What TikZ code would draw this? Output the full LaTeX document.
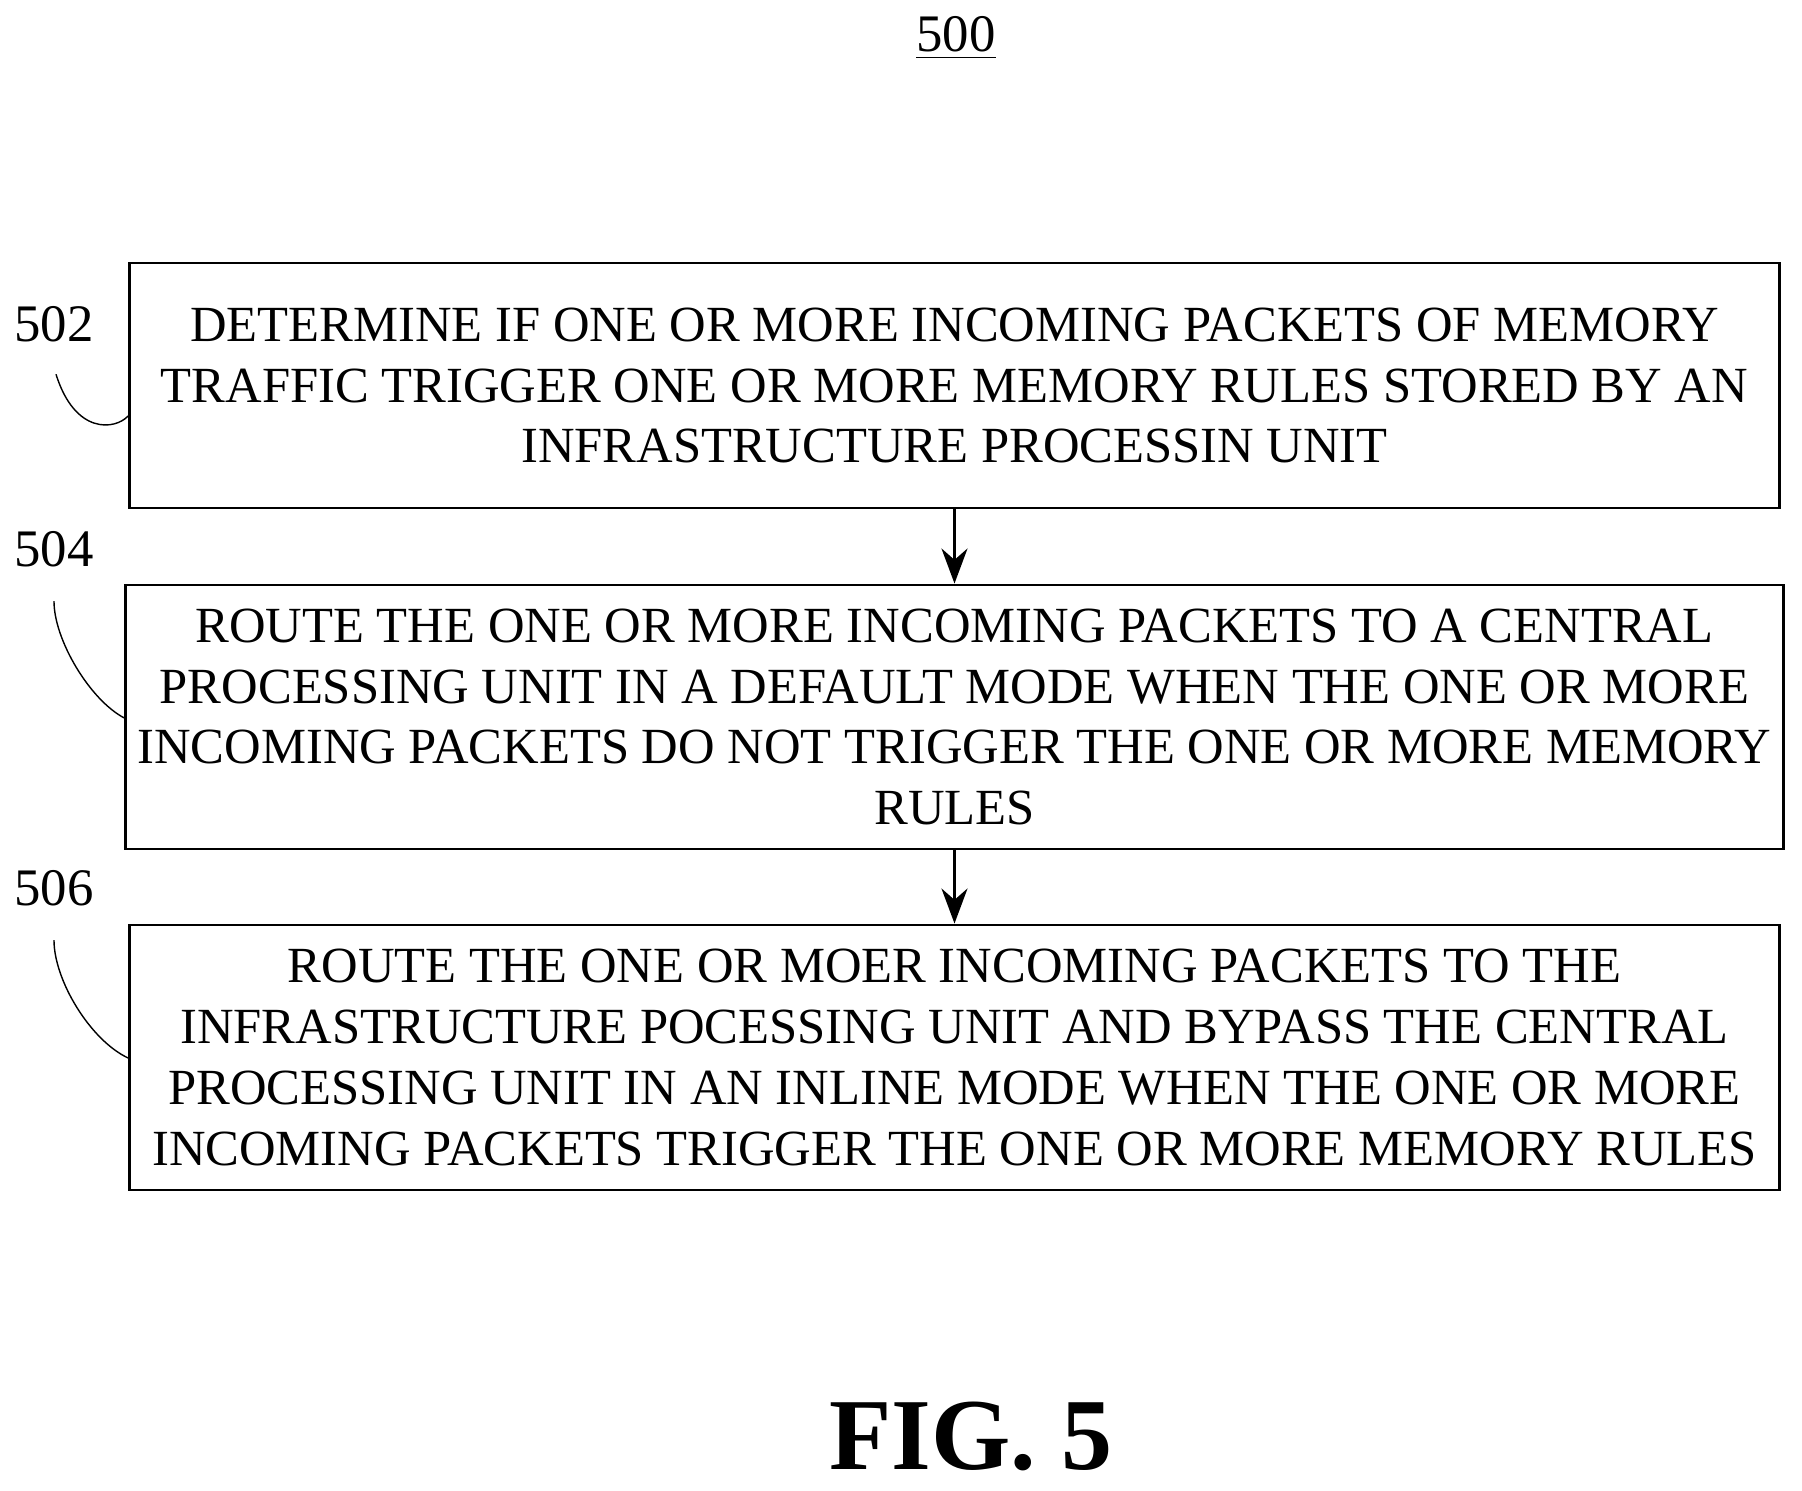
\documentclass[tikz,border=0pt]{standalone}
\usepackage{fontspec}
\setmainfont{Liberation Serif}
\usetikzlibrary{arrows.meta, positioning}
\begin{document}
\begin{tikzpicture}[x=0.01cm, y=-0.01cm,
	% Styles for the flow chart
	block/.style={draw, thick, rectangle, minimum width=16.49cm, align=center, font=\fontsize{14.4}{17.3}\selectfont},
	tag/.style={font=\fontsize{15}{18}\selectfont},
	line/.style={-{Stealth[length=3.5mm, width=2.6mm]}, thick},
	lead/.style={thin}
	]
	\useasboundingbox (0,0) rectangle (1802,1491);
	
	% === NODES ===
	\node[tag] (title) at (956,38) {\underline{500}};
	\node[block, minimum height=2.45cm] (s502) at (954.5,385.5) {DETERMINE IF ONE OR MORE INCOMING PACKETS OF MEMORY\\TRAFFIC TRIGGER ONE OR MORE MEMORY RULES STORED BY AN\\INFRASTRUCTURE PROCESSIN UNIT};
	\node[block, minimum height=2.64cm] (s504) at (954.5,717) {ROUTE THE ONE OR MORE INCOMING PACKETS TO A CENTRAL\\PROCESSING UNIT IN A DEFAULT MODE WHEN THE ONE OR MORE\\INCOMING PACKETS DO NOT TRIGGER THE ONE OR MORE MEMORY\\RULES};
	\node[block, minimum height=2.65cm] (s506) at (954.5,1057.5) {ROUTE THE ONE OR MOER INCOMING PACKETS TO THE\\INFRASTRUCTURE POCESSING UNIT AND BYPASS THE CENTRAL\\PROCESSING UNIT IN AN INLINE MODE WHEN THE ONE OR MORE\\INCOMING PACKETS TRIGGER THE ONE OR MORE MEMORY RULES};
	\node[tag] (t502) at (54,324) {502};
	\node[tag] (t504) at (54,549) {504};
	\node[tag] (t506) at (54,888) {506};
	\node[font=\fontsize{29}{34}\selectfont\bfseries] (fig) at (971,1436) {FIG. 5};
	
	% === CONNECTIONS ===
	\draw[line] (s502) -- (s504);
	\draw[line] (s504) -- (s506);
	\draw[lead] (t502.south) ++(2,20) .. controls (75,435) and (115,430) .. (s502.west |- 0,416);
	\draw[lead] (t504.south) ++(0,22) .. controls (54,640) and (90,700) .. (s504.west |- 0,718);
	\draw[lead] (t506.south) ++(0,22) .. controls (54,980) and (90,1040) .. (s506.west |- 0,1058);
\end{tikzpicture}
\end{document}
